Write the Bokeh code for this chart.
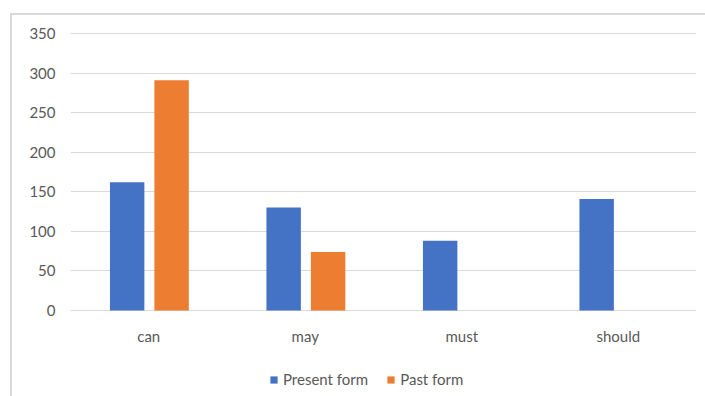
from bokeh.plotting import figure
from bokeh.models import (FactorRange, Range1d, Legend, LegendItem,
                          ColumnDataSource, FixedTicker)
from bokeh.transform import dodge
from bokeh.embed import file_html
from bokeh.resources import INLINE

modals = ["can", "may", "must", "should"]
present_form = [162, 130, 88, 141]
past_form = [291, 74, 0, 0]
y_ticks = [0, 50, 100, 150, 200, 250, 300, 350]

src = ColumnDataSource(dict(modal=modals, present=present_form, past=past_form))

# frame runs to the bottom of the canvas; y range extended below 0 so that the
# legend and category labels can sit inside the frame
p = figure(width=705, height=396, x_range=FactorRange(*modals, range_padding=0),
           y_range=Range1d(-108.67, 351.26), output_backend="svg", toolbar_location=None,
           min_border_left=70, min_border_right=9, min_border_top=32, min_border_bottom=0)

r1 = p.vbar(x=dodge("modal", -0.138, range=p.x_range), top="present", width=0.22,
            source=src, fill_color="#4472C4", line_color=None)
r2 = p.vbar(x=dodge("modal", 0.146, range=p.x_range), top="past", width=0.22,
            source=src, fill_color="#ED7D31", line_color=None)

font = "Lato"
for ax in (p.xaxis, p.yaxis):
    ax.axis_line_color = None
    ax.major_tick_line_color = None
    ax.minor_tick_line_color = None
    ax.major_tick_out = 0
    ax.major_tick_in = 0
    ax.minor_tick_out = 0
    ax.major_label_text_font = font
    ax.major_label_text_font_size = "15px"
    ax.major_label_text_color = "#595959"
p.yaxis.ticker = FixedTicker(ticks=y_ticks)
p.ygrid.ticker = FixedTicker(ticks=y_ticks)
p.yaxis.major_label_standoff = 15
p.xaxis.fixed_location = 0
p.xaxis.major_label_standoff = 17
p.xgrid.grid_line_color = None
p.ygrid.grid_line_color = "#d9d9d9"
p.ygrid.grid_line_width = 1
p.outline_line_color = None
p.background_fill_color = "white"
p.border_fill_alpha = 0

p.styles = {
    "background-color": "white",
    "background-image": "linear-gradient(#d9d9d9, #d9d9d9), linear-gradient(#d9d9d9, #d9d9d9)",
    "background-repeat": "no-repeat",
    "background-position": "10px 13px, 10px 13px",
    "background-size": "2px 100%, 100% 2px",
}

legend = Legend(items=[LegendItem(label="Present form", renderers=[r1]),
                       LegendItem(label="Past form", renderers=[r2])],
                orientation="horizontal", location=(199, 8),
                label_text_font=font, label_text_font_size="15px",
                label_text_color="#595959", glyph_width=9, glyph_height=9,
                spacing=18, label_standoff=5, padding=5, margin=0,
                border_line_color=None, background_fill_alpha=0)
p.add_layout(legend, "center")

open("out.html", "w").write(file_html(p, INLINE))
